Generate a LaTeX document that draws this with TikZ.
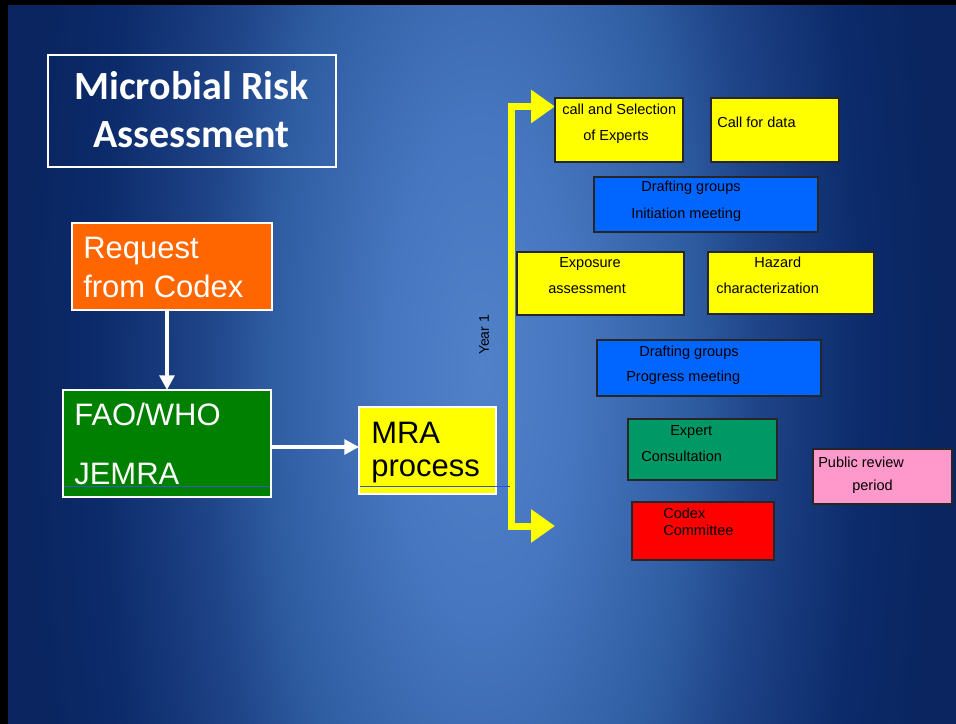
\documentclass[tikz,border=0pt]{standalone}
\usepackage{fontspec}
\setmainfont{Liberation Sans}
\newfontfamily\titlefont{Carlito}
\usetikzlibrary{arrows.meta}
\definecolor{bgA}{HTML}{5081C9}
\definecolor{bgB}{HTML}{4676BF}
\definecolor{bgC}{HTML}{2F5DA2}
\definecolor{bgD}{HTML}{1F4488}
\definecolor{bgE}{HTML}{0C2B6B}
\definecolor{bgF}{HTML}{0A2560}
\definecolor{cOrange}{HTML}{FF6600}
\definecolor{cGreen}{HTML}{008000}
\definecolor{cYellow}{HTML}{FFFF00}
\definecolor{cBlue}{HTML}{0066FF}
\definecolor{cTeal}{HTML}{009966}
\definecolor{cRed}{HTML}{FF0000}
\definecolor{cPink}{HTML}{FF99CC}
\definecolor{cLine}{HTML}{3355CC}
\pgfdeclareradialshading{bgshade}{\pgfpoint{0bp}{0bp}}{color(0bp)=(bgA); color(5bp)=(bgB); color(11bp)=(bgC); color(14.5bp)=(bgD); color(20bp)=(bgE); color(24bp)=(bgF); color(50bp)=(bgF)}
\tikzset{
  bigbox/.style={draw=white, line width=0.8pt, inner sep=0pt, outer sep=0pt},
  rbox/.style={draw=black!85, line width=1pt},
  small/.style={font=\fontsize{10.9pt}{12pt}\selectfont, text=black, inner sep=0pt, anchor=base west},
  large/.style={font=\fontsize{23.25pt}{26pt}\selectfont, inner sep=0pt, anchor=base west},
  ttl/.style={font=\titlefont\bfseries\fontsize{30pt}{32pt}\selectfont, text=white, inner sep=0pt, anchor=base},
  warrow/.style={draw=white, line width=3pt, -{Triangle[width=11pt,length=11pt]}},
  ybar/.style={draw=cYellow, line width=5.25pt, line join=miter, {Triangle[width=24pt,length=18pt]}-{Triangle[width=24pt,length=18pt]}},
  bline/.style={draw=cLine, line width=0.75pt}
}
\begin{document}
\begin{tikzpicture}[x=0.75pt,y=-0.75pt]
\useasboundingbox (0,0) rectangle (956,724);
\fill[black] (0,0) rectangle (956,724);
\begin{scope}
\clip (8,6) rectangle (956,724);
\shade[shading=bgshade] (4,-880) rectangle (958,1620);
\end{scope}

% title
\draw[white, line width=0.8pt] (48,55) rectangle (336,167);
\node[ttl] (ttl1) at (191.5,99) {Microbial Risk};
\node[ttl] (ttl2) at (191.5,147) {Assessment};

% left flow
\node[bigbox, fill=cOrange, minimum width=150pt, minimum height=65.25pt] (req) at (172,266.5) {};
\node[large, text=white] (reqt1) at (83,258) {Request};
\node[large, text=white] (reqt2) at (83,297) {from Codex};

\node[bigbox, fill=cGreen, minimum width=156pt, minimum height=80.25pt] (fao) at (167,443.5) {};
\node[large, text=white] (faot1) at (74,425) {FAO/WHO};
\node[large, text=white] (faot2) at (74,484) {JEMRA};
\draw[bline] (64,486) -- (270,486);

\node[bigbox, fill=cYellow, minimum width=102.75pt, minimum height=65.25pt] (mra) at (427.5,450.5) {};
\node[large, text=black] (mrat1) at (371,443) {MRA};
\node[large, text=black] (mrat2) at (371,476) {process};

\draw[warrow] (req.south -| fao.north) -- (fao.north);
\draw[warrow] (fao.east |- 0,447) -- (mra.west |- 0,447);

% yellow bracket
\coordinate (ytop) at (555,106.5);
\coordinate (ybot) at (555,526);
\draw[ybar] (ytop) -- (511.5,106.5) -- (511.5,526) -- (ybot);
\draw[bline] (360,486) -- (510,486);
\node[font=\fontsize{10.5pt}{12pt}\selectfont, rotate=90, inner sep=0pt] (year) at (484,335) {Year 1};

% right boxes
\filldraw[rbox, fill=cYellow] (555,98) rectangle (683,162);
\node[small] (s1a) at (562,114) {call and Selection};
\node[small] (s1b) at (583,140) {of Experts};

\filldraw[rbox, fill=cYellow] (711,98) rectangle (839,162);
\node[small] (s2) at (717,127) {Call for data};

\filldraw[rbox, fill=cBlue] (594,177) rectangle (818,232);
\node[small] (s3a) at (641,191.5) {Drafting groups};
\node[small] (s3b) at (631,218.5) {Initiation meeting};

\filldraw[rbox, fill=cYellow] (517,252) rectangle (684,315);
\node[small] (s4a) at (559,267) {Exposure};
\node[small] (s4b) at (548,293) {assessment};

\filldraw[rbox, fill=cYellow] (708,252) rectangle (874,314);
\node[small] (s5a) at (754,267) {Hazard};
\node[small] (s5b) at (716,293) {characterization};

\filldraw[rbox, fill=cBlue] (597,340) rectangle (821,396);
\node[small] (s6a) at (639,356) {Drafting groups};
\node[small] (s6b) at (626,381.5) {Progress meeting};

\filldraw[rbox, fill=cTeal] (628,419) rectangle (777,480);
\node[small] (s7a) at (670,435) {Expert};
\node[small] (s7b) at (641,461) {Consultation};

\filldraw[rbox, fill=cRed] (632,502) rectangle (774,560);
\node[small] (s8a) at (663,518) {Codex};
\node[small] (s8b) at (663,535) {Committee};

\filldraw[rbox, fill=cPink] (813,449) rectangle (952,504);
\node[small] (s9a) at (818,467) {Public review};
\node[small] (s9b) at (852,490) {period};
\end{tikzpicture}
\end{document}
